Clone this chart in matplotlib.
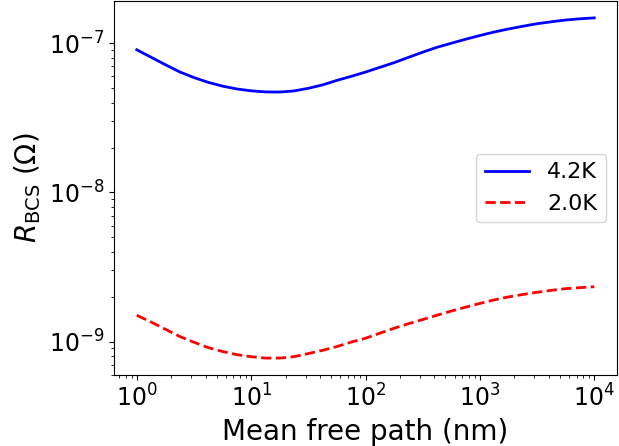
import matplotlib
matplotlib.use("Agg")
import matplotlib.pyplot as plt

# mean free path (nm) and surface resistance (ohm)
mfp = [1.0, 1.33, 1.78, 2.37, 3.16, 4.22, 5.62, 7.50,
       10.0, 13.3, 17.8, 23.7, 31.6, 42.2, 56.2, 75.0,
       100.0, 133.0, 178.0, 237.0, 316.0, 422.0, 562.0, 750.0,
       1000.0, 1330.0, 1780.0, 2370.0, 3160.0, 4220.0, 5620.0, 7500.0,
       10000.0]
r_42k = [9.04e-8, 8.07e-8, 7.18e-8, 6.43e-8, 5.89e-8, 5.47e-8, 5.16e-8, 4.94e-8,
         4.80e-8, 4.72e-8, 4.71e-8, 4.79e-8, 4.99e-8, 5.26e-8, 5.64e-8, 6.00e-8,
         6.41e-8, 6.89e-8, 7.41e-8, 8.04e-8, 8.71e-8, 9.40e-8, 1.000e-7, 1.064e-7,
         1.127e-7, 1.189e-7, 1.247e-7, 1.300e-7, 1.352e-7, 1.393e-7, 1.432e-7, 1.459e-7,
         1.479e-7]
r_20k = [1.503e-9, 1.355e-9, 1.211e-9, 1.084e-9, 9.91e-10, 9.12e-10, 8.59e-10, 8.18e-10,
         7.93e-10, 7.76e-10, 7.76e-10, 7.93e-10, 8.32e-10, 8.75e-10, 9.27e-10, 9.93e-10,
         1.054e-9, 1.138e-9, 1.230e-9, 1.318e-9, 1.406e-9, 1.503e-9, 1.603e-9, 1.702e-9,
         1.803e-9, 1.905e-9, 1.995e-9, 2.070e-9, 2.143e-9, 2.208e-9, 2.265e-9, 2.301e-9,
         2.333e-9]

fig, ax = plt.subplots(figsize=(6.19, 4.46), dpi=100)
fig.subplots_adjust(left=0.184, right=0.997, top=0.998, bottom=0.159)

ax.plot(mfp, r_42k, color="blue", lw=2, label="4.2K")
ax.plot(mfp, r_20k, color="red", lw=2, ls="--", label="2.0K")
ax.set_xscale("log")
ax.set_yscale("log")

ax.set_xlabel("Mean free path (nm)", fontsize=20)
ax.set_ylabel(r"$R_{\rm BCS}$ ($\Omega$)", fontsize=20)
ax.tick_params(labelsize=17)
ax.legend(loc="center right", fontsize=16)

fig.savefig("out.png", dpi=100)
